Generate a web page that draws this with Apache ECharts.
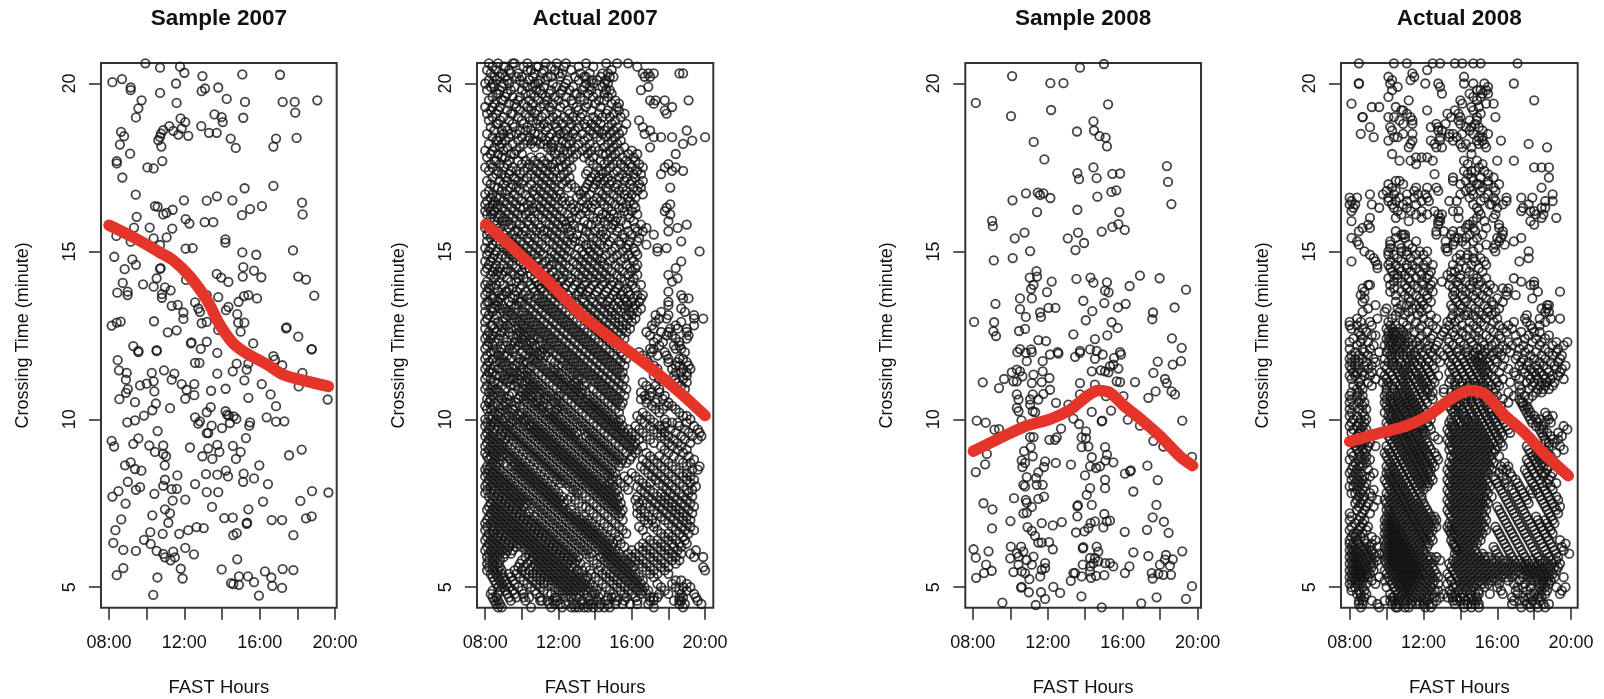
<!DOCTYPE html>
<html><head><meta charset="utf-8">
<style>html,body{margin:0;background:#fff}#c{width:1604px;height:699px}</style>
<script src="https://cdn.jsdelivr.net/npm/echarts@6/dist/echarts.min.js"></script>
</head><body><div id="c"></div>
<script>
const xTicks=[8,10,12,14,16,18,20], xLabels=[8,12,16,20], yTicks=[5,10,15,20];
const titles=['Sample 2007','Actual 2007','Sample 2008','Actual 2008'];
const sample2007=[[8.18,20.04],[8.69,20.13],[9.15,19.88],[9.15,19.8],[9.73,19.5],[9.56,19.26],[9.43,18.99],[10.71,19.72],[10.71,20.47],[9.93,20.6],[11.77,20.5],[12,20.32],[11.56,20],[11.59,19.42],[12.96,20.22],[12.92,19.77],[13.1,19.85],[13.8,19.88],[14.25,19.54],[15.08,20.27],[15.22,19.45],[17.08,20.26],[17.22,19.45],[17.86,19.45],[17.89,19.13],[19.06,19.5],[15.13,18.98],[13.6,19.08],[13.98,19],[14.04,18.85],[11.8,18.96],[12.05,18.85],[12.9,18.73],[13.31,18.53],[13.72,18.53],[14.46,18.36],[14.73,18.08],[16.87,18.36],[16.73,18.12],[17.96,18.38],[11.2,18.73],[10.88,18.61],[10.76,18.51],[10.71,18.41],[10.62,18.31],[10.78,18.12],[11.41,18.59],[11.68,18.48],[11.86,18.66],[12.21,18.44],[8.64,18.56],[8.8,18.43],[8.58,18.18],[9.12,17.91],[8.41,17.69],[8.41,17.62],[10.83,17.69],[10.04,17.5],[10.37,17.47],[8.71,17.2],[9.42,16.69],[15.2,16.88],[16.73,16.95],[13.73,16.64],[13.19,16.51],[11.98,16.52],[14.55,16.52],[18.25,16.45],[18.28,16.1],[16.12,16.35],[15.49,16.26],[15.06,16.08],[10.44,16.35],[10.58,16.33],[10.88,16.1],[11.05,16.15],[11.38,16.24],[9.47,16.03],[9.33,15.71],[10.16,15.71],[11.36,15.68],[12.07,15.96],[12.27,15.83],[13.08,15.87],[13.54,15.87],[8.39,15.46],[10.37,15.39],[11.06,15.42],[9.15,15.29],[10.71,15.19],[14.18,15.36],[14.18,15.26],[12.07,15.08],[12.44,15.1],[17.77,15.03],[15.08,14.97],[15.82,14.9],[8.28,14.84],[9.24,14.76],[9.43,14.6],[8.83,14.47],[10.71,14.48],[10.74,14.5],[15.13,14.53],[15.7,14.43],[15.1,14.25],[16.09,14.23],[13.72,14.33],[13.96,14.22],[14.34,14.09],[18.05,14.25],[18.46,14.16],[10.53,14.2],[10.37,13.95],[9.81,14.02],[8.73,14.06],[8.44,13.77],[8.99,13.8],[8.99,13.7],[10.97,13.93],[11.27,13.84],[10.81,13.73],[10.81,13.62],[12.09,14.15],[13.19,13.7],[13.8,13.64],[15.17,13.67],[15.4,13.7],[14.88,13.5],[15.86,13.6],[18.9,13.68],[12.57,13.48],[11.33,13.38],[11.65,13.41],[11.95,13.18],[11.95,12.99],[12.83,13.2],[12.74,13.3],[14.34,13.35],[14.21,13.25],[14.81,13.13],[14.86,12.88],[15.19,12.88],[14.99,12.61],[12.92,12.86],[13.19,12.9],[13.8,12.66],[10.39,12.92],[8.14,12.79],[8.41,12.88],[8.62,12.91],[11.12,12.59],[11.59,12.65],[17.4,12.71],[17.43,12.74],[18.05,12.46],[12.35,12.26],[12.38,12.29],[13.19,12.31],[15.66,12.26],[9.29,12.18],[18.76,12.09],[10.53,12.06],[9.56,12.04],[12.87,12.1],[9.56,12],[10.53,12.03],[13.75,11.98],[18.76,12.08],[8.46,11.76],[8.53,11.46],[8.94,11.38],[8.9,11.18],[9.65,11.01],[10,11.06],[10.27,11.38],[10.37,11.13],[10.41,10.83],[10.92,11.46],[11.47,11.36],[11.33,11.18],[9,10.9],[8.9,10.79],[8.55,10.6],[9.38,10.51],[10.49,10.47],[10.3,10.27],[9.86,10.11],[9.38,9.97],[8.97,9.91],[11.24,10.33],[11.86,11.05],[12.53,11.05],[12.12,10.88],[12.53,10.72],[12.05,10.61],[12.57,11.68],[12.8,11.68],[13.75,11.36],[13.42,10.85],[14.19,10.91],[14.57,11.43],[14.78,11.66],[15.31,11.48],[15.4,11.66],[15.19,11.16],[16.11,11.05],[15.4,10.64],[16.58,10.74],[16.87,10.39],[16.73,11.88],[16.81,11.78],[17.2,11.61],[18.27,11.38],[18.07,10.98],[19.61,10.59],[13.4,10.36],[13.19,10.21],[12.57,10.06],[12.83,9.94],[12.74,9.87],[13.45,9.81],[14,9.74],[14.19,10.24],[14.27,10.14],[14.36,10.11],[14.62,10.09],[14.76,10.01],[14.42,9.89],[15.49,9.91],[15.45,9.81],[16.37,10.06],[16.87,9.93],[17.31,9.94],[13.19,9.59],[13.27,9.59],[15.27,9.44],[10.58,9.65],[9.56,9.43],[8.14,9.36],[8.27,9.19],[9.29,9.27],[10.14,9.22],[10.88,9.22],[10.44,9.03],[10.88,8.97],[11.03,8.9],[12.3,9.16],[13.27,9.13],[13.75,9.24],[14.58,9.21],[14.99,9.03],[14.74,8.82],[13.86,9.03],[12.96,8.9],[13.49,8.82],[18.23,9.1],[17.56,8.93],[15.98,8.63],[9.15,8.72],[8.85,8.63],[9.38,8.52],[9.72,8.47],[10.96,8.63],[10.97,8.2],[11.63,8.33],[13.15,8.37],[13.75,8.35],[14.21,8.47],[14.32,8.3],[15.15,8.38],[15.12,8.14],[15.7,8.24],[16.44,8.07],[9,8.14],[9.65,7.98],[9.43,7.9],[10.88,8.02],[11.33,7.92],[11.6,7.93],[12.57,8.07],[8.5,7.86],[8.18,7.7],[10.41,7.78],[13.19,7.83],[13.8,7.83],[18.78,7.86],[19.65,7.82],[11.38,7.58],[12.05,7.61],[8.88,7.49],[16.18,7.55],[18.16,7.57],[13.47,7.39],[15.4,7.32],[10.97,7.32],[11.24,7.2],[10.3,7.14],[8.65,7.02],[14.12,7.06],[14.57,7.07],[16.64,7],[17.19,7],[18.46,7.05],[18.76,7.11],[11.15,6.92],[15.31,6.89],[15.33,6.92],[8.34,6.7],[10.19,6.64],[10.85,6.59],[11.73,6.59],[12.21,6.7],[12.65,6.79],[13.03,6.76],[14.6,6.55],[14.78,6.61],[17.79,6.55],[8.23,6.32],[9.86,6.41],[10.21,6.29],[8.76,6.11],[9.43,6.08],[10.53,6.08],[10.88,5.99],[11.41,6.06],[11.5,5.89],[11.27,5.8],[10.97,5.89],[12.05,6.17],[12.51,5.98],[14.81,5.83],[11.81,5.55],[11.91,5.26],[10.57,5.29],[8.76,5.57],[8.41,5.36],[13.98,5.53],[16.28,5.47],[17.22,5.54],[17.79,5.51],[16.62,5.29],[14.9,5.32],[15.38,5.32],[15.7,5.15],[14.48,5.12],[14.6,5.09],[14.9,5.07],[16.67,5.04],[17.19,4.98],[15.96,4.75],[10.35,4.77]];
const sample2008=[[8.16,19.42],[10.1,20.22],[12.14,20.01],[12.84,20.01],[13.72,20.47],[15,20.58],[10.04,19.03],[12.18,19.21],[15.22,19.38],[14.44,18.87],[14.47,18.6],[13.56,18.57],[14.76,18.43],[15.09,18.39],[15.16,18.13],[11.25,18.26],[11.82,17.74],[14.44,17.5],[18.36,17.54],[13.58,17.33],[13.67,17.15],[14.61,17.18],[15.45,17.31],[15.86,17.32],[18.42,17.07],[15.66,16.82],[15.4,16.77],[14.65,16.63],[18.6,16.41],[10.84,16.73],[11.47,16.75],[11.59,16.68],[11.77,16.73],[12.14,16.59],[10.12,16.52],[11.43,16.17],[13.58,16.24],[15.82,16.17],[9.03,15.91],[9.07,15.75],[15.77,15.81],[15.45,15.73],[16.11,15.64],[14.88,15.59],[13.62,15.56],[13.07,15.39],[13.94,15.25],[13.48,15.04],[10.76,15.56],[10.24,15.39],[11.06,15.01],[10.13,14.8],[9.12,14.73],[11.4,14.41],[11.43,14.25],[11.04,14.22],[11.24,14],[11.11,13.88],[12.21,14.1],[11.96,13.79],[13.53,14.18],[14.28,14.22],[14.44,14.07],[15.16,14.08],[15.06,13.83],[15.25,13.78],[16.37,13.97],[16.92,14.28],[17.97,14.2],[19.38,13.86],[10.52,13.6],[11.15,13.6],[9.21,13.44],[13.9,13.53],[15.02,13.46],[16.16,13.44],[15.75,13.33],[18.77,13.33],[10.52,13.28],[12.04,13.32],[12.41,13.32],[14.38,13.22],[11.59,13.18],[11.64,13.05],[10.83,13.05],[17.62,13.18],[17.58,12.98],[8.07,12.9],[9.14,12.89],[14.03,12.95],[15.41,12.89],[15.73,12.72],[9.1,12.62],[9.24,12.48],[10.47,12.63],[10.79,12.69],[13.37,12.53],[15.18,12.5],[14.52,12.39],[11.5,12.36],[11.91,12.33],[18.63,12.41],[19.15,12.13],[10.52,12.09],[11.11,12.08],[12.53,12],[13.72,12.04],[14.26,12.08],[14.61,12.04],[15.86,12],[10.38,12],[10.83,11.98],[11.15,12],[12.12,11.93],[12.57,11.96],[13.46,11.86],[13.72,11.98],[14.52,11.8],[14.93,11.93],[15.91,11.93],[15.54,11.83],[10.88,11.73],[11.73,11.73],[17.87,11.72],[19.11,11.73],[18.67,11.63],[15.5,11.63],[15.32,11.58],[15.06,11.43],[15.24,11.4],[14.83,11.46],[15.77,11.51],[14.35,11.43],[11.73,11.43],[10.35,11.48],[10.52,11.43],[10.08,11.4],[11.24,11.33],[12.09,11.23],[17.64,11.38],[18.26,11.2],[18.35,11.08],[8.53,11.1],[9.67,11.2],[9.4,10.93],[10.17,11.13],[10.35,11.13],[10.65,11.28],[11.15,11.08],[11.68,11.11],[13.72,11.08],[14.52,11.03],[15.68,11.13],[15.86,11.11],[16.66,11.11],[12.12,10.88],[11.77,10.76],[11.5,10.59],[11.2,10.74],[11.06,10.59],[10.35,10.74],[10.44,10.59],[10.35,10.34],[10.44,10.24],[11.06,10.44],[11.2,10.24],[11.33,10.21],[17.76,10.83],[17.37,10.64],[18.61,10.83],[18.79,10.74],[12.44,10.49],[13.1,10.44],[13.72,10.74],[15.11,10.69],[16.04,10.69],[14.35,10.22],[15.38,10.26],[13.37,10.02],[10.6,9.97],[8.21,9.96],[8.69,9.9],[14.88,9.94],[14.91,9.96],[16.27,9.99],[16.92,9.81],[19.18,9.96],[9.16,9.69],[9.4,9.71],[12.71,9.72],[13.67,9.86],[14.04,9.64],[13.81,9.46],[14.04,9.44],[11.24,9.47],[11.06,9.47],[12.09,9.39],[12.48,9.46],[12.39,9.39],[13.81,9.17],[14.17,9.19],[17.64,9.36],[18.17,9.19],[11.09,9.17],[15.06,9.17],[10.74,9.05],[8.75,8.97],[11.2,8.9],[15.16,8.95],[19.7,8.88],[14.35,8.87],[10.61,8.78],[10.79,8.7],[15.08,8.77],[11.86,8.75],[12.43,8.7],[13.24,8.65],[8.66,8.66],[10.65,8.58],[11.8,8.58],[14.26,8.6],[14.58,8.55],[14.79,8.6],[15.5,8.72],[17.32,8.62],[8.16,8.43],[11.5,8.42],[10.88,8.28],[11.38,8.25],[13.99,8.33],[16.12,8.38],[16.43,8.48],[16.4,8.45],[17.87,8.19],[15.06,8.2],[15.06,7.95],[14.26,7.95],[10.7,8.05],[10.79,8],[11.41,8.05],[11.73,8.05],[14.08,7.75],[16.57,7.85],[10.2,7.65],[10.83,7.6],[10.88,7.52],[11.5,7.63],[11.8,7.7],[8.57,7.5],[9.05,7.32],[11.15,7.39],[10.7,7.2],[10.88,7.22],[13.58,7.41],[13.61,7.44],[14.35,7.45],[17.8,7.45],[13.58,7.11],[15.02,7.18],[17.6,7.08],[10.01,6.97],[11.68,6.91],[12.27,6.84],[12.75,6.94],[14.52,6.96],[14.29,6.91],[14.17,6.76],[13.96,6.66],[15.15,6.96],[15.32,6.98],[14.97,6.78],[18.2,6.95],[9.03,6.75],[10.92,6.79],[11.15,6.68],[11.32,6.53],[13.51,6.63],[16.11,6.65],[17.3,6.71],[18.45,6.62],[11.5,6.33],[11.68,6.33],[12.07,6.34],[12.27,6.13],[8.04,6.13],[8.84,6.07],[8.16,5.88],[8.71,5.67],[10.03,6.21],[10.58,6.21],[10.35,6.01],[10.7,6.06],[10,5.86],[10.44,5.91],[10.88,5.81],[11.24,5.91],[11.15,5.67],[11.86,5.72],[10.44,5.67],[10.17,5.45],[9.01,5.49],[8.6,5.42],[8.18,5.28],[10.61,5.47],[10.79,5.42],[11.68,5.52],[11.6,5.32],[11.02,5.24],[11.86,5.57],[13.87,6.16],[13.9,6.19],[14.61,6.21],[14.7,6.06],[14.52,5.87],[14.26,5.87],[13.87,5.67],[14.43,5.72],[14.7,5.77],[14.26,5.62],[15.06,5.72],[15.32,5.72],[15.5,5.62],[16.57,6.04],[17.37,5.93],[19.18,6.07],[18.31,5.96],[18.67,5.83],[18.26,5.82],[17.99,5.67],[18.52,5.64],[13.37,5.42],[13.46,5.42],[13.23,5.19],[13.81,5.32],[14.31,5.28],[14.58,5.34],[15.02,5.36],[14.26,5.47],[16.12,5.42],[16.36,5.62],[17.55,5.42],[17.6,5.26],[17.9,5.4],[18.17,5.37],[18.58,5.37],[10.58,4.99],[10.61,5.01],[10.99,4.85],[11.64,4.85],[11.86,4.65],[12.3,5.01],[12.66,4.83],[13.8,4.73],[9.58,4.54],[11.36,4.47],[14.88,4.4],[16.99,4.52],[17.81,4.7],[19.38,4.65],[19.7,5.03]];
// Dense panels: [minute*10, hour*10, hour*10, ...]
const actual2007Rows=[
[206,82,87,95,96,103,113,119,124,135,146,152,158],
[205,84,90,91,101,108,109,116,123,131,139,163],
[204,81,86,93,103,105,112,118,127,149],
[203,83,89,94,98,107,111,120,122,132,137,144,147,166,169,172,186,188],
[202,85,88,91,97,100,106,114,116,121,129,134,135,143,148,150,167,170],
[201,82,86,92,99,104,110,113,125,131,138,141,146],
[200,80,84,90,93,101,107,109,117,124,135,139,145,147],
[199,83,85,89,96,103,106,112,119,123,128,134,137,144,169],
[198,81,88,94,100,108,110,116,122,126,133,138,146,148,165],
[197,86,87,92,102,105,111,115,121,129,130,136,141,145,149],
[196,84,91,95,99,107,113,118,124,132,139,147],
[195,82,89,90,98,104,109,114,120,127,134,142,145,151,170,173,178,191],
[194,85,93,96,101,106,112,117,123,128,136,140,149,153,172],
[193,80,84,88,97,103,110,115,121,130,135,143,152,182],
[192,83,87,92,99,105,108,116,125,131,138,147,153,178],
[191,81,86,94,95,102,107,113,119,126,133,142,146,150,156,179],
[190,84,90,98,104,111,117,123,128,132,139,144,148,154],
[189,82,88,93,100,106,109,115,120,125,130,136,141,151,164],
[188,86,87,95,101,108,112,118,122,127,134,138,143,149,157],
[187,83,91,96,103,110,114,119,126,131,135,140,147,152,166],
[186,85,89,92,99,102,105,113,120,124,129,137,142,145,150,155,170,190],
[185,81,90,94,97,107,109,116,121,123,128,133,139,144,148,153,167],
[184,84,88,93,100,104,111,115,119,125,130,136,141,146,151,172,176,182,200],
[183,86,87,91,98,103,106,108,113,118,122,127,134,143,149,154,193],
[182,82,89,95,101,105,110,112,116,124,126,131,137,147,152,188],
[181,85,88,92,99,107,114,117,121,129,135,140,145,150,156,170],
[180,80,84,90,97,116,120,123,127,133,138,142,148,153,160],
[179,83,87,94,96,100,118,125,130,136,144,146,151,158,163,184],
[178,81,89,91,105,110,115,122,128,134,139,149,155,161],
[177,85,86,93,98,102,107,112,119,121,126,137,143,147,152,157,162],
[176,83,88,92,100,104,109,114,117,124,139,145,150,154,159,164,180],
[175,80,84,90,95,103,106,111,116,120,122,127,141,148,156,160,166,178,184],
[174,82,87,94,97,101,108,113,118,125,136,143,146,152,158,163,182,188],
[173,86,89,93,99,105,110,115,123,135,140,144,150,155,161,165,176],
[172,84,91,96,103,107,112,117,121,126,138,142,147,153,157,162],
[171,81,88,92,98,101,109,114,119,124,137,141,145,149,156,160,166],
[170,83,90,95,100,105,111,116,122,127,136,140,143,148,152,159,164],
[169,85,87,94,97,103,108,113,118,125,129,135,139,146,151,155,161,165,181],
[168,82,89,92,99,106,110,115,120,131,134,142,147,153,157,163],
[167,80,84,91,96,102,107,112,117,121,132,137,144,150,156,160,166],
[166,83,86,88,93,98,104,109,114,119,123,130,135,141,146,152,158,162],
[165,81,85,90,95,100,105,111,116,122,126,133,139,143,148,154,159],
[164,80,84,87,92,97,103,108,113,118,124,128,136,140,145,151,157,161,181],
[163,82,86,89,94,99,101,106,110,115,120,127,131,134,138,147,153,155,162,179],
[162,80,83,85,91,96,104,107,112,117,122,129,135,142,149,156,160,178],
[161,81,84,88,93,98,102,109,114,119,125,132,137,144,146,150,158,163,181],
[160,83,87,90,95,100,105,111,116,121,127,130,139,143,148,152,159],
[159,85,89,92,97,103,107,113,118,123,126,134,141,145,151,154,161,180],
[158,82,86,91,94,99,104,109,115,120,124,128,136,138,147,150,157,165,190],
[157,80,84,88,93,101,106,110,117,122,125,131,133,142,149,153,162,168,185],
[156,82,87,96,98,102,108,112,114,119,127,135,140,144,152,158,163,166,180],
[155,81,85,90,95,100,105,111,116,121,126,130,137,143,146,155,160,172],
[154,83,89,92,97,103,107,113,118,123,128,134,139,145,150,156,164],
[153,81,86,94,99,104,109,115,120,125,129,132,141,148,153,159,163,187],
[152,84,88,91,96,101,106,111,117,122,127,135,138,143,147,154,158,168],
[151,80,83,90,93,98,103,108,113,119,124,131,136,140,145,151,157,161,174,179],
[150,82,86,92,95,100,105,110,116,121,126,133,137,142,149,155,162,174,197],
[149,81,85,89,94,97,102,107,112,118,123,129,134,139,146,152,158,163],
[148,84,87,91,96,100,104,109,115,120,125,131,136,141,144,150,156,160],
[147,80,83,93,99,103,108,113,117,122,128,133,138,143,148,154,161,187],
[146,82,86,90,95,101,106,111,116,119,124,130,135,140,145,151,157,163],
[145,81,85,88,92,97,102,104,109,114,121,126,132,137,142,147,153,159,162,184],
[144,80,84,87,91,94,100,107,112,117,123,129,134,139,144,149,155,160],
[143,83,86,89,96,99,105,110,115,120,125,131,136,141,146,152,158,163,180],
[142,85,92,98,101,107,113,118,122,127,133,138,143,148,154,161,185],
[141,81,88,94,97,103,108,111,116,121,126,130,135,140,145,150,156,159,182],
[140,80,83,86,90,100,105,109,114,119,124,129,134,139,144,149,153,160,165],
[139,82,85,93,95,99,106,110,111,120,123,128,132,137,142,147,152,157,162],
[138,81,87,91,92,97,102,107,112,117,122,131,133,136,141,146,151,155,158,180],
[137,80,83,89,90,96,101,104,109,114,119,125,130,135,140,145,150,154,159,163,166,187],
[136,84,85,88,95,98,103,108,111,116,121,127,133,138,143,148,152,156,161,165,188,191],
[135,81,82,87,93,99,100,105,110,113,118,124,129,134,139,144,147,153,157,160,164,180],
[134,80,86,89,94,97,102,107,112,115,120,126,131,136,141,146,150,155,158,162,180],
[133,83,85,88,91,96,104,109,114,117,122,128,133,138,143,148,152,156,161,165,187],
[132,80,84,90,93,98,101,106,111,116,119,124,130,135,140,145,149,154,159,163,176,189],
[131,82,86,92,95,100,103,108,113,118,121,126,132,137,142,147,151,157,160,173,180,194],
[130,81,85,91,94,97,102,105,110,115,120,123,128,134,139,144,149,153,158,162,175,179,194,199],
[129,80,87,90,96,99,104,107,112,117,122,125,130,136,141,146,151,155,160,173,187],
[128,83,84,89,92,98,101,106,109,114,119,124,127,132,138,143,148,153,157,171,184,194],
[127,80,85,91,94,97,100,103,108,111,116,121,126,129,134,140,145,150,155,159,172,181,185,190],
[126,82,86,89,93,99,102,105,110,113,118,123,128,131,136,142,147,152,157,168,176,180,190],
[125,81,84,88,95,98,101,104,107,112,115,120,125,130,133,138,144,149,154,170,179,182,191],
[124,80,83,87,90,97,100,106,109,114,117,122,127,132,135,140,146,151,156,174,184,190],
[123,82,85,92,96,99,102,105,111,116,119,124,129,134,137,142,148,153,172,177,186],
[122,81,84,91,94,98,101,104,107,110,113,118,121,126,131,136,139,144,150,155,175,183,186],
[121,80,86,89,93,96,103,106,112,115,120,123,128,133,138,141,146,152,170,172,184,187],
[120,83,85,88,95,100,105,108,111,114,117,122,125,130,135,140,143,148,154,164,171,178,189],
[119,81,87,90,92,97,102,107,110,113,119,124,127,132,137,142,145,150,155,166,174,179],
[118,80,84,89,94,99,104,106,109,116,121,126,129,134,139,144,147,152,157,168,180,186,188],
[117,82,86,88,91,98,101,103,108,111,118,123,128,131,136,141,146,149,154,169,180,185,190],
[116,81,85,90,93,96,99,105,110,113,120,122,125,130,133,138,143,148,151,156,172,184,186,191],
[115,80,83,87,92,95,101,104,107,112,115,118,124,127,132,135,140,145,150,153,174,182,188,192],
[114,82,84,89,94,97,100,103,109,114,117,120,126,129,134,137,142,147,152,155,174,184,187,190],
[113,81,86,88,91,96,99,102,105,111,116,119,122,128,131,136,139,144,149,154,172,183,190],
[112,80,83,90,93,95,98,104,107,113,118,121,124,130,133,138,141,146,151,156,175,184,188],
[111,85,87,92,97,100,103,106,109,115,120,123,126,129,135,140,143,148,153,166,185,190],
[110,81,84,89,94,96,102,105,108,111,117,122,125,128,131,134,142,145,150,155,168,173,187],
[109,80,83,86,91,98,101,104,107,110,113,119,124,127,130,133,139,144,147,152,157,170,175,189],
[108,82,85,88,95,100,103,106,109,112,115,121,126,129,132,135,141,146,149,154,165,171,175],
[107,84,87,90,93,99,102,105,108,114,117,120,123,128,131,137,143,148,151,156,167,170,178],
[106,81,83,89,92,98,101,104,110,113,116,119,125,130,133,136,139,145,150,153,165,168,174,177],
[105,82,85,91,94,97,103,106,109,112,118,121,127,132,135,138,141,147,152,155,168,173,180],
[104,80,84,87,90,96,99,105,108,111,114,120,123,129,134,137,140,143,149,154,171,179,182],
[103,81,83,89,92,95,101,107,110,116,119,122,125,131,136,139,142,145,151,173,177,184],
[102,85,88,91,94,100,103,109,112,115,118,124,127,133,138,141,144,147,153,166,175,186],
[101,82,84,87,93,96,99,102,105,111,114,117,120,126,129,135,140,143,146,149,163,168,188,190],
[100,80,83,86,89,95,98,101,104,107,113,116,119,122,128,131,137,142,145,148,151,154,165,170,178,192],
[99,81,85,88,91,94,97,100,106,109,115,118,121,124,130,133,139,144,147,150,153,167,172,179,182,185,190],
[98,80,83,87,90,93,99,102,105,108,111,117,120,123,126,132,135,141,146,149,152,155,162,170,175,178,186,194],
[97,82,85,89,92,95,101,104,107,110,113,119,122,125,128,134,137,143,148,151,154,158,164,172,176,181,189,196],
[96,81,84,91,94,97,103,106,109,112,115,121,124,127,130,136,139,145,150,153,156,160,166,174,178,184,191,197],
[95,80,83,86,89,93,96,99,105,108,111,114,117,123,126,129,135,138,141,147,152,155,158,162,168,176,180,187,193,198],
[94,82,85,88,91,95,98,101,107,110,113,116,119,125,128,131,137,140,143,149,154,157,160,164,170,178,183,189,196],
[93,81,84,87,90,97,100,103,109,112,115,118,121,127,130,133,139,142,145,151,156,159,162,172,180,185,192],
[92,80,83,86,89,92,99,102,105,111,114,117,120,123,129,132,135,141,144,147,153,158,161,166,176,182,187],
[91,82,85,88,91,94,101,104,107,113,116,119,122,125,131,134,137,143,146,149,155,160,163,178,185,190],
[90,80,84,87,90,93,96,103,106,109,115,118,121,124,127,133,136,139,145,148,151,157,162,168,180,188],
[89,81,83,86,89,92,95,98,105,108,111,117,120,123,126,129,135,138,141,147,150,153,160,170,175,183,191],
[88,82,85,88,94,97,100,107,110,113,119,122,125,128,131,137,140,143,149,152,155,159,166,172,178,186,194],
[87,84,87,90,96,99,102,109,112,115,121,124,127,130,133,139,142,145,151,154,157,168,174,180,188,192],
[86,81,83,86,92,95,98,101,104,111,114,117,123,126,129,132,135,141,144,147,153,165,170,176,182,190,197],
[85,80,82,85,88,94,97,100,103,106,113,116,119,125,128,131,134,137,143,146,149,167,172,178,184,193,196],
[84,81,84,87,90,96,99,102,105,108,115,118,121,127,130,133,136,139,145,148,151,160,169,174,180,186,190],
[83,80,83,86,89,92,98,101,104,107,110,117,120,123,129,132,135,138,141,147,150,156,162,171,176,182,188,192],
[82,82,85,88,91,94,100,103,106,109,112,119,122,125,131,134,137,140,143,149,152,158,164,173,178,184,190,194],
[81,81,84,87,90,93,96,102,105,108,111,114,121,124,127,133,136,139,142,145,148,154,166,170,175,180,186,192],
[80,80,83,86,89,92,95,98,104,107,110,113,116,126,129,135,138,141,144,147,150,156,163,168,177,182,188,195],
[79,81,85,88,91,94,97,100,106,109,112,115,118,128,131,137,140,143,146,149,152,158,165,170,179,184,190,193],
[78,80,83,87,90,93,96,99,102,108,111,114,117,120,130,133,139,142,145,148,151,167,172,176,181,186,191],
[77,82,85,89,92,95,98,101,104,110,113,116,119,122,127,135,141,144,147,150,153,163,169,174,178,183,188,193],
[76,84,87,91,94,97,100,103,106,112,115,118,121,125,129,137,143,146,149,152,162,166,171,176,180,185,190],
[75,83,86,89,93,96,99,102,105,108,114,117,120,123,131,139,145,148,151,154,164,168,173,178,182,187,192],
[74,82,85,88,91,95,98,101,107,110,116,119,122,133,135,141,147,150,153,163,170,175,180,184,189,194],
[73,81,84,87,90,93,97,100,109,112,118,121,124,127,137,143,149,152,155,165,172,177,182,186,191],
[72,83,86,89,92,95,99,102,104,111,114,120,123,126,129,139,145,151,154,163,167,174,179,184,188,193],
[71,82,85,88,91,94,97,101,104,107,113,116,122,125,128,131,134,141,147,153,165,169,176,181,186,190],
[70,81,84,87,90,93,96,99,103,106,109,115,118,124,127,130,133,136,143,149,155,167,171,178,183,188,192],
[69,80,83,86,89,92,95,98,101,105,108,111,117,120,126,129,132,135,138,145,151,169,173,180,185,190],
[68,81,85,88,91,94,97,100,103,107,110,113,119,122,128,131,134,137,140,147,153,164,172,182,187,192],
[67,80,84,87,90,93,96,99,102,105,109,112,115,121,124,130,133,136,139,142,149,155,166,174,184,189,194],
[66,82,85,89,92,95,98,101,104,107,111,114,117,123,126,132,135,138,141,144,151,157,176,180,186,191],
[65,81,84,87,91,94,97,100,103,106,109,113,116,119,125,128,134,137,140,143,146,153,168,178,182,188],
[64,80,83,86,89,93,96,99,102,105,108,111,115,118,121,127,130,136,139,142,145,148,152,170,174,180,184,189],
[63,82,85,88,91,95,98,101,104,107,110,113,117,120,123,129,132,138,141,144,147,150,154,166,172,176,182,186,190],
[62,81,84,87,90,93,97,100,103,106,109,112,115,119,122,125,131,134,140,143,146,149,156,164,168,174,178,183,187],
[61,80,83,86,89,92,95,102,105,108,111,114,117,121,124,127,133,136,142,145,148,151,160,166,170,176,180,185,195],
[60,82,85,88,91,94,104,107,110,113,116,119,123,126,129,135,138,144,147,150,153,158,162,168,172,178,182,187,192],
[59,81,84,87,90,102,106,109,112,115,118,121,125,128,131,137,143,146,149,152,155,160,164,170,174,180,184,194,199],
[58,82,85,88,100,105,108,111,114,117,120,123,127,130,139,145,148,151,154,157,162,166,172,176,182,186],
[57,81,84,87,99,103,107,110,113,116,119,122,125,129,132,141,147,150,153,156,159,164,168,174,178,184],
[56,82,85,88,98,101,106,109,112,115,118,121,124,127,135,143,149,152,155,158,161,166,170,176,180,199],
[55,81,84,87,89,96,100,104,108,111,114,117,120,123,126,130,133,137,142,146,151,154,157,160,168,172,178,200],
[54,83,86,89,93,97,102,106,110,113,116,119,122,125,128,131,138,144,148,153,156,159,162,170,174,180],
[53,84,87,90,94,99,104,108,112,115,118,121,124,127,130,133,136,140,146,150,155,158,161,164,172],
[52,85,88,91,95,101,106,110,114,117,120,123,126,129,132,135,142,148,152,157,160,163,166,184,187],
[51,86,89,92,96,103,108,112,116,119,122,125,128,131,134,137,144,150,154,159,162,165,174,182,190],
[50,87,90,93,98,105,110,118,121,124,127,130,133,136,139,146,152,156,161,164,167,176,184,188,192],
[49,84,88,91,95,100,107,112,120,123,126,129,132,135,138,141,148,154,158,163,166,169,178,186,190],
[48,83,87,92,96,101,108,114,116,122,125,128,131,134,140,143,150,156,160,165,168,175,180,187,194],
[47,84,86,93,97,101,104,110,118,119,124,127,130,136,142,147,149,151,157,162,170,172,174,186,188,195],
[46,85,87,94,102,110,111,114,117,119,133,137,139,141,146,152,156,163,170,172,183,186,187,196],
[45,86,88,115,118,121,124,128,130,133,136,138,143,147,151,155,159,163,169,186,189,198],
[44,87,89,105,116,122,127,129,131,134,136,139,142,145,148,172,188]
];
const actual2008Rows=[
[206,104,111,125,129,137,141,147,151,85,171],
[204,122],[203,114],[202,101,115,142],[201,113,103],
[200,85,85,102,121,128,147,153,169,142],[199,106,129,155],[198,103,151,154,149],
[197,130,152,155,145],[196,101,147,151],[195,112,180,149,140],[194,81,154,158,141],
[193,92,96,146,105,150],[192,122,109,108,137,147],[191,111,133,139,151],
[190,87,87,101,104,113,135,140,149,159],[189,139,145,149,107,114],[188,109,114,127,140,148,132],
[187,91,102,124,128,150,146,143],[186,103,128,145,152,130],[185,86,109,114,134,147,155,136,141],
[184,93,104,106,134,138,150,152,129],[183,101,114,124,129,152,162,136,149],[182,113,126,140,177,153,143,150],
[181,112,127,130,141,146,187,154],[179,103,146],[178,116,119,122],[177,107,125,142,149,160,169,113],
[176,116,144,152],[175,180,188,184,150],[174,142,146,153,148],[173,126,155,144],[172,136,146,151,158,188],
[171,105,107,136,147,155,143],[170,101,109,140,149,155,161,150],[169,103,116,122,127,145,184,152,158],
[168,100,105,115,143,151,159,146,128],[167,98,91,104,111,117,140,147,155,190,121],
[166,80,84,101,107,115,122,145,153,165,173,179,158],[165,81,101,105,111,119,123,134,138,151,159,165,190,186],
[164,80,83,92,103,109,116,147,157,177,156,163],[163,82,96,104,111,149,160,186,184,174],
[162,81,106,113,119,126,136,139,150,173,180,178],[161,108,116,122,128,151,159,181,185,130],
[160,91,105,119,129,139,149,158,184,192],[159,81,112,128,147,153,178,129],[158,90,128,144,161,180,145],
[157,87,91,143,147,154,161],[156,85,105,127,131,140,148,163,136],[155,108,110,127,135,145,152,163,109],
[154,81,105,110,137,139,143,149,160,162,173],[153,84,102,116,132,137,141,147,161,169],
[152,85,102,107,112,136,154,159,164,143],[151,102,108,114,132,150,158,133],
[150,88,101,108,118,122,133,147,159,111,177],[149,91,104,111,116,120,140,144,101],
[148,93,106,113,138,143,151,177,147],[147,81,94,102,108,117,122,140,148,153,172],
[146,95,101,105,111,114,120,125,136,146,154],[145,95,102,107,111,116,121,139,143,150],
[144,103,108,113,118,124,137,145,152,135],[143,104,110,119,123,133,147,140,106],
[142,101,106,112,116,122,135,140,149,154,169],[141,104,108,113,119,125,130,138,143,147,151,180,173],
[140,90,91,102,110,115,120,124,134,139,145,150,156,178,180],[139,87,104,111,117,123,136,141,146,153,158,166,163],
[138,88,102,108,113,120,125,137,143,149,155,165,182,194],[137,86,105,110,116,122,136,141,147,152,170,165],
[136,88,112,118,122,137,142,148,154,160,179],[135,87,105,113,119,124,138,143,150,157,163],
[134,94,108,111,116,120,135,140,146,153,158,188,187],[133,90,100,106,114,118,122,136,141,148,155,161,184,187],
[132,87,99,107,112,119,139,144,150,155,159,186,188],[131,105,110,117,124,136,142,147,152,157,176,144],
[130,84,95,103,113,120,127,135,139,149,154,160,175,183,189,194],[129,80,86,91,101,109,116,123,133,137,145,151,158,169,176,186],
[128,80,84,92,102,105,111,119,125,134,141,147,153,161,166,178,183],[127,81,87,100,103,107,112,118,127,132,138,144,149,156,163,168,179],
[126,85,89,101,104,106,109,115,122,131,136,141,150,158,165,173,180,183],[125,86,92,94,101,103,105,108,111,119,125,130,137,143,148,154,161,170,177,188],
[124,82,87,100,102,104,107,110,113,118,124,133,139,145,150,156,162,175,181,186],[123,80,86,90,101,103,106,108,112,116,121,128,134,140,146,152,159,166,171,179,184,192,198],
[122,84,93,99,102,105,107,110,114,118,123,127,136,142,147,153,157,163,168,174,183,190,196],[121,80,87,91,101,104,106,109,112,117,122,126,133,139,144,149,151,155,161,165,172,177,186,193],
[120,83,88,96,100,103,107,111,115,119,124,129,134,138,143,148,153,158,160,167,175,181,188,192],[119,81,85,90,102,105,109,113,116,120,125,131,135,140,144,147,150,152,157,162,171,178,184,190,195],
[118,80,83,87,93,99,103,107,111,114,118,122,127,136,141,145,148,151,154,159,164,170,174,180,186,194],[117,81,85,89,94,101,104,108,112,115,119,123,129,134,138,142,146,149,152,155,160,173,177,183,189,193],
[116,80,83,88,92,99,103,106,110,113,117,121,125,135,139,143,147,150,153,156,163,172,176,181,185,191,197],[115,81,85,90,100,105,108,111,114,118,122,126,136,140,144,148,151,154,158,166,174,178,182,187,192,195],
[114,82,84,87,92,97,102,106,109,112,116,119,123,134,137,141,145,149,152,155,161,169,175,180,183,188,194],[113,80,83,88,91,99,103,107,110,113,117,120,124,128,138,142,146,150,153,157,170,177,181,185,190,193],
[112,81,86,94,100,104,108,111,115,118,121,125,135,139,143,147,151,154,159,163,172,178,182,186,189,196],[111,85,90,98,101,105,109,112,116,119,122,126,134,137,141,145,148,152,155,160,167,176,180,184,187,191],
[110,82,86,92,100,103,107,110,113,117,120,124,137,140,144,147,150,153,157,161,172,179,183,186,190],[109,84,87,100,104,108,111,114,118,121,123,131,138,142,145,148,151,155,159,173,177,182,185,188],
[108,81,85,100,103,106,109,112,115,119,122,125,131,135,138,141,144,147,150,154,158,166,172,181,184],[107,80,84,87,99,102,105,108,110,113,116,120,124,136,139,143,146,149,152,156,160,169,175,179],
[106,81,86,100,103,106,109,111,114,117,121,125,134,137,140,143,146,149,153,156,158,163,177,172],[105,80,85,88,99,102,104,107,110,112,115,118,122,133,136,139,142,146,150,153,157,166,173,174],
[104,82,87,100,103,105,108,111,113,116,119,134,138,140,144,147,151,154,159,162,174,176],[103,80,85,89,101,104,106,109,112,114,117,120,135,137,141,145,148,152,155,157,161,175,177],
[102,81,87,99,102,105,107,110,113,115,118,122,136,139,142,146,149,153,156,160,163,176,178,186],[101,80,84,88,101,103,106,108,111,114,116,119,137,141,143,147,150,154,157,161,177,180,187,190],
[100,82,86,89,102,104,107,109,112,115,117,120,124,135,138,142,144,148,151,155,158,163,178,181,183,188],[99,81,85,88,100,103,105,108,110,113,116,118,122,134,136,140,143,146,149,152,156,159,164,179,182,186,189],
[98,80,84,87,101,104,106,109,111,114,117,119,123,135,137,141,144,147,150,153,157,160,165,181,184,196],[97,82,86,89,102,105,107,110,112,115,118,120,124,133,136,139,142,145,148,151,154,158,161,166,183,185,198],
[96,81,85,88,100,103,106,108,111,113,116,119,121,134,137,140,143,146,149,152,155,159,162,167,184,187,193],[95,84,87,90,101,104,107,109,112,114,117,120,126,135,138,141,144,147,150,153,156,160,163,185,189,195],
[94,83,86,89,102,105,108,110,113,115,118,121,128,133,136,139,142,145,148,151,154,157,161,186,190,193],[93,82,85,88,91,103,106,109,111,114,116,119,122,134,137,140,143,146,149,152,155,158,162,186,188,191],
[92,83,86,90,94,100,104,107,110,112,115,117,120,123,135,138,141,144,147,150,153,156,160,163,176,182,188,194],[91,84,87,89,101,105,108,111,113,116,118,121,124,134,136,139,142,145,148,151,154,157,159,177,183,186,196],
[90,81,85,88,99,102,106,109,112,114,117,119,122,126,137,140,143,146,149,152,155,158,178,181,184,187,192],[89,82,86,89,100,103,107,110,113,115,118,120,123,127,135,138,141,144,147,150,153,156,161,179,182,185,189],
[88,80,85,88,91,101,104,108,111,114,116,119,121,124,128,136,139,142,145,148,151,154,157,176,180,183,186],[87,83,86,89,102,105,109,112,115,117,120,122,125,134,137,140,143,146,149,152,155,158,164,177,181,184,190],
[86,82,85,87,100,103,106,110,113,116,118,121,123,126,135,138,141,144,147,150,153,156,162,166,178,182,185,188,192],[85,81,84,90,101,104,107,111,114,117,119,122,124,133,136,139,142,145,148,151,154,157,163,165,175,179,183,187],
[84,80,83,86,93,100,102,105,108,112,115,118,120,123,134,137,140,143,146,149,152,155,161,167,176,180,184,186,190],[83,82,85,88,91,101,103,106,109,113,116,119,121,124,135,138,141,144,147,150,153,158,163,168,177,181,185,189],
[82,81,84,87,99,102,104,107,110,114,117,120,122,125,133,136,139,142,145,148,151,154,159,165,170,178,183,188],[81,83,86,89,100,103,105,108,111,115,118,121,123,134,137,140,143,146,149,152,155,160,164,171,179,184,187,192],
[80,80,82,85,88,101,104,106,109,112,116,119,122,135,138,141,144,147,150,153,156,161,166,172,180,185,189],[79,84,87,93,102,105,107,110,113,117,120,133,136,139,142,145,148,151,154,162,168,173,178,181,186,190],
[78,81,83,86,91,100,103,106,108,111,114,118,134,137,140,143,146,149,152,155,163,169,174,179,182,187],[77,85,88,92,101,104,107,109,112,115,119,135,138,141,144,147,150,153,157,164,170,175,183,188,192],
[76,84,87,95,99,102,105,108,110,113,116,119,133,136,139,142,145,148,151,154,165,171,176,184,189,193],[75,83,86,90,100,103,106,109,111,114,117,120,134,137,140,143,146,149,152,155,166,172,177,185,190],
[74,85,89,93,101,104,107,110,112,115,118,121,135,138,141,144,147,150,153,160,167,173,186,191,194],[73,84,88,100,102,105,108,111,113,116,119,122,133,136,139,142,145,148,151,154,161,168,174,187,192],
[72,80,87,91,101,103,106,109,112,114,117,120,123,134,137,140,143,146,149,152,162,169,175,188,193],[71,81,86,100,102,104,107,110,113,115,118,121,124,126,135,138,141,144,147,150,153,163,170,176,181,189],
[70,80,85,88,99,101,103,105,108,111,114,116,119,122,125,127,136,139,142,145,148,151,154,164,171,177,182,186,190],[69,83,87,100,102,104,106,109,112,115,117,120,123,126,134,137,140,143,146,149,152,165,172,178,183,187,191],
[68,81,86,90,99,101,103,105,107,110,113,116,118,121,124,127,133,135,138,141,144,147,150,153,159,166,173,179,184,188],[67,80,85,89,100,102,104,106,108,111,114,117,119,122,125,134,136,139,142,145,148,151,154,160,167,174,180,185,189],
[66,82,84,87,99,101,103,105,107,109,112,115,118,120,123,135,137,140,143,146,149,152,161,168,175,181,186,190],[65,81,83,86,92,100,102,104,106,108,110,113,116,119,121,124,136,138,141,144,147,150,162,169,176,182,187],
[64,80,84,88,94,99,101,103,105,107,109,111,114,117,120,122,125,135,139,142,145,148,151,163,170,177,183,188,194],[63,80,82,85,89,92,100,102,104,106,108,110,112,115,118,121,123,136,137,140,143,146,149,164,171,178,184,189,197],
[62,81,83,86,88,91,95,99,101,103,105,107,109,111,113,116,119,122,137,138,141,144,147,158,165,172,179,185,190,195],[61,80,82,84,87,89,92,100,102,104,106,108,110,112,114,117,120,138,139,142,145,148,159,166,173,180,186,191,196],
[60,81,83,85,88,90,93,96,99,101,103,105,107,109,111,113,115,118,121,137,140,143,146,149,152,160,167,174,181,187,192,199],[59,80,82,84,86,89,91,94,100,102,104,106,108,110,112,114,116,119,122,124,127,138,141,144,147,150,153,155,161,168,175,182,188,193],
[58,81,83,85,87,90,92,95,99,101,103,105,107,109,111,113,115,117,120,123,126,129,136,139,142,145,148,151,154,157,160,163,166,169,172,176,179,183,186,189,192],[57,80,82,84,86,88,91,93,100,102,104,106,108,110,112,114,116,118,121,124,134,137,140,143,146,149,152,155,158,161,164,167,170,173,175,177,180,182,184,187,190,194],
[56,81,83,85,87,89,92,101,103,105,107,109,111,113,115,117,119,122,125,135,138,141,144,147,150,153,156,159,162,165,168,171,174,176,178,181,183,185,188,191,193],[55,80,82,84,86,88,90,93,99,102,104,106,108,110,112,114,116,118,120,123,126,136,139,142,145,148,151,154,157,160,163,166,169,172,175,177,179,182,184,186,189,192],
[54,81,83,85,87,89,91,100,103,105,107,109,111,113,115,117,119,121,124,127,133,137,140,143,146,149,152,155,158,161,164,167,170,173,176,178,180,183,185,187,190],[53,80,82,84,86,88,90,96,101,104,106,108,110,112,114,116,118,122,125,128,134,138,141,144,147,150,153,156,159,162,165,168,174,177,179,181,184,186,188,191,196],
[52,81,83,85,87,92,99,102,105,107,109,111,113,115,117,120,123,126,135,139,142,145,148,151,154,157,160,166,172,178,180,182,185,187,189],[51,80,84,86,89,94,103,106,108,110,112,114,116,119,122,125,128,133,137,140,143,146,149,152,155,161,169,175,183,185,188],
[50,81,83,87,100,104,107,109,111,113,115,118,121,124,136,138,141,144,147,153,160,171,174,178,183,186,192,197],[49,81,85,88,105,108,110,112,114,117,120,123,126,128,134,139,143,146,150,162,170,176,181,184,187,195],
[48,84,86,89,102,106,109,111,113,116,119,122,125,131,135,137,141,145,148,150,156,163,171,178,180,183,186,194],[47,86,88,103,104,107,110,112,115,118,121,123,126,129,133,136,138,140,142,146,149,168,174,177,182,184],
[46,85,87,92,99,102,104,106,109,111,114,117,120,122,127,136,138,140,143,147,149,169,172,175,179,183],[45,85,87,95,103,105,107,110,113,116,118,120,123,125,137,142,144,146,148,150,168,176,178,181,185,188],
[44,86,96,105,106,110,112,121,124,142,146,150,173,178,182,186]
];
const rowsToPoints=rows=>rows.flatMap(r=>r.slice(1).map(h=>[h/10,r[0]/10]));
const actual2007=rowsToPoints(actual2007Rows);
const actual2008=rowsToPoints(actual2008Rows);
const trend2007s=[[8,15.78],[9.3,15.42],[10.7,14.97],[11.4,14.74],[12.3,14.25],[13.2,13.55],[13.9,12.8],[14.6,12.26],[15.4,11.93],[16.4,11.63],[17.25,11.33],[18.15,11.18],[19.65,10.98]];
const trend2007a=[[8.03,15.81],[9.53,15.09],[11.35,14.15],[13.17,13.15],[15,12.36],[16.8,11.63],[18.64,10.79],[20,10.11]];
const trend2008s=[[8.03,9.05],[9.45,9.44],[10.9,9.81],[12.1,10],[13.2,10.29],[14.1,10.69],[14.7,10.86],[15.3,10.8],[16,10.44],[17.1,9.94],[18,9.5],[19.05,8.9],[19.73,8.62]];
const trend2008a=[[8,9.34],[9.64,9.59],[11.1,9.81],[12.35,10.14],[13.45,10.59],[14.5,10.86],[15.35,10.74],[16.35,10.14],[17.4,9.64],[18.5,9],[19.85,8.32]];
const points=[sample2007,actual2007,sample2008,actual2008];
const trends=[trend2007s,trend2007a,trend2008s,trend2008a];
const boxes=[{l:101,r:336.7,a:7.575,b:20.09},{l:477,r:713.3,a:7.55,b:20.45},{l:965.3,r:1201,a:7.6,b:20.18},{l:1341,r:1577.7,a:7.53,b:20.36}];
const TOP=63,BOT=607.7,YMIN=4.39,YMAX=20.61;
const ink='#141414';
const opt={animation:false,backgroundColor:'#fff',title:[],grid:[],xAxis:[],yAxis:[],series:[]};
boxes.forEach((p,i)=>{
 opt.title.push({text:titles[i],left:(p.l+p.r)/2,top:7,padding:0,textAlign:'center',textStyle:{fontFamily:'Liberation Sans',fontWeight:'bold',fontSize:22.5,color:'#111'}});
 opt.grid.push({left:p.l,top:TOP,width:p.r-p.l,height:BOT-TOP,show:true,borderColor:'#333',borderWidth:2,backgroundColor:'#fff',containLabel:false,outerBoundsMode:'none'});
 opt.xAxis.push({type:'value',gridIndex:i,min:p.a,max:p.b,position:'bottom',splitLine:{show:false},axisLine:{show:false},
  axisTick:{show:true,length:12,inside:false,customValues:xTicks,lineStyle:{color:'#333',width:1.6}},
  axisLabel:{show:true,customValues:xLabels,margin:26,hideOverlap:false,fontFamily:'Liberation Sans',fontSize:18,color:'#111',formatter:v=>String(v).padStart(2,'0')+':00'},
  name:'FAST Hours',nameLocation:'middle',nameGap:71,nameTextStyle:{fontFamily:'Liberation Sans',fontSize:18.5,color:'#111'}});
 opt.yAxis.push({type:'value',gridIndex:i,min:YMIN,max:YMAX,position:'left',splitLine:{show:false},axisLine:{show:false},
  axisTick:{show:true,length:12,inside:false,customValues:yTicks,lineStyle:{color:'#333',width:1.6}},
  axisLabel:{show:true,customValues:yTicks,rotate:90,margin:22,hideOverlap:false,fontFamily:'Liberation Sans',fontSize:18,color:'#111'},
  name:'Crossing Time (minute)',nameLocation:'middle',nameRotate:90,nameGap:69,nameTextStyle:{fontFamily:'Liberation Sans',fontSize:18,color:'#111'}});
 opt.series.push({type:'scatter',xAxisIndex:i,yAxisIndex:i,data:points[i],symbol:'circle',symbolSize:8.5,large:false,progressive:0,clip:true,silent:true,
  itemStyle:{color:'rgba(0,0,0,0)',borderColor:ink,borderWidth:1.8},z:2});
 opt.series.push({type:'line',xAxisIndex:i,yAxisIndex:i,data:trends[i],showSymbol:false,smooth:0.3,silent:true,clip:true,
  lineStyle:{color:'#e5352a',width:11.5,cap:'round',join:'round'},z:3});
});
const chart=echarts.init(document.getElementById('c'),null,{renderer:'canvas'});
chart.setOption(opt);
</script></body></html>
